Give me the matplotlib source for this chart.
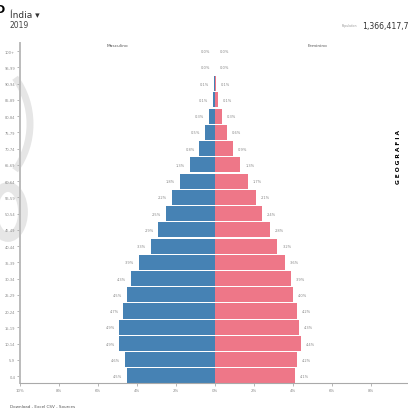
"""
Population pyramid for India, 2019 (share of total population by age and sex).
"""

import matplotlib.pyplot as plt
from matplotlib.patches import Arc, Ellipse

# age groups from bottom to top
age_groups = ['0-4', '5-9', '10-14', '15-19', '20-24', '25-29', '30-34',
              '35-39', '40-44', '45-49', '50-54', '55-59', '60-64', '65-69',
              '70-74', '75-79', '80-84', '85-89', '90-94', '95-99', '100+']
male_pct = [4.5, 4.6, 4.9, 4.9, 4.7, 4.5, 4.3, 3.9, 3.3, 2.9, 2.5, 2.2, 1.8,
            1.3, 0.8, 0.5, 0.3, 0.1, 0.05, 0.02, 0.0]
female_pct = [4.1, 4.2, 4.4, 4.3, 4.2, 4.0, 3.9, 3.6, 3.2, 2.8, 2.4, 2.1, 1.7,
              1.3, 0.9, 0.6, 0.35, 0.15, 0.07, 0.02, 0.0]
x_ticks = [-10, -8, -6, -4, -2, 0, 2, 4, 6, 8]
x_tick_labels = ['10%', '8%', '6%', '4%', '2%', '0%', '2%', '4%', '6%', '8%']

country = 'Índia'
year = '2019'
population = '1,366,417,755'

BLUE = '#4682b4'
PINK = '#ee7788'
W, H = 408, 410

fig = plt.figure(figsize=(W / 100, H / 100), dpi=100)

# background watermark (big light "Co")
wm = fig.add_axes([0, 0, 1, 1])
wm.set_xlim(0, W)
wm.set_ylim(H, 0)
wm.axis('off')
wm.add_patch(Arc((-40, 125), 140, 150, theta1=-40, theta2=40,
                 color='#e6e6e6', lw=5))
wm.add_patch(Ellipse((8, 213), 30, 50, fill=False, ec='#e6e6e6', lw=7))

ax = fig.add_axes([20 / W, 1 - 384 / H, (W - 20) / W, (384 - 44) / H])
ax.patch.set_alpha(0)

y = list(range(len(age_groups)))
ax.barh(y, [-v for v in male_pct], height=0.93, color=BLUE)
ax.barh(y, female_pct, height=0.93, color=PINK)

for i in y:
    m, f = male_pct[i], female_pct[i]
    ax.text(-m - 0.25, i, f'{m:.1f}%', fontsize=2.6, color='#888888',
            ha='right', va='center')
    ax.text(f + 0.25, i, f'{f:.1f}%', fontsize=2.6, color='#888888',
            ha='left', va='center')

ax.set_xlim(-10, 9.9)
ax.set_ylim(-0.43, 20.5)
ax.set_xticks(x_ticks)
ax.set_xticklabels(x_tick_labels, fontsize=2.8, color='#888888')
ax.set_yticks(y)
ax.set_yticklabels(age_groups, fontsize=2.6, color='#888888')
ax.tick_params(axis='x', length=2, width=0.6, color='#aaaaaa', pad=1.5)
ax.tick_params(axis='y', length=2, width=0.6, color='#aaaaaa', pad=1.5)
for side in ['top', 'right']:
    ax.spines[side].set_visible(False)
ax.spines['left'].set_color('#bbbbbb')
ax.spines['left'].set_linewidth(1.4)
ax.spines['bottom'].set_color('#aaaaaa')
ax.spines['bottom'].set_linewidth(0.8)

# headings
fig.text(-4 / W, 1 - 10 / H, 'D', fontsize=8, fontweight='bold', va='center')
fig.text(10 / W, 1 - 15 / H, country + ' ▾', fontsize=6.5, color='#333333',
         va='center')
fig.text(10 / W, 1 - 26 / H, year, fontsize=5.5, color='#444444', va='center')
fig.text(342 / W, 1 - 26 / H, 'Population', fontsize=2.2, color='#999999',
         va='center')
fig.text(362 / W, 1 - 26 / H, population, fontsize=5.6, color='#333333',
         va='center')
fig.text(117 / W, 1 - 46 / H, 'Masculino', fontsize=3.2, color='#555555',
         ha='center', va='center')
fig.text(318 / W, 1 - 46 / H, 'Feminino', fontsize=3.2, color='#555555',
         ha='center', va='center')
fig.text(399 / W, 1 - 157 / H, 'G E O G R A F I A', fontsize=4.2,
         fontweight='bold', rotation=90, ha='center', va='center')
fig.text(10 / W, 1 - 407 / H, 'Download - Excel CSV - Sources', fontsize=3,
         color='#555555', va='center')

fig.savefig('out.png', dpi=100)
